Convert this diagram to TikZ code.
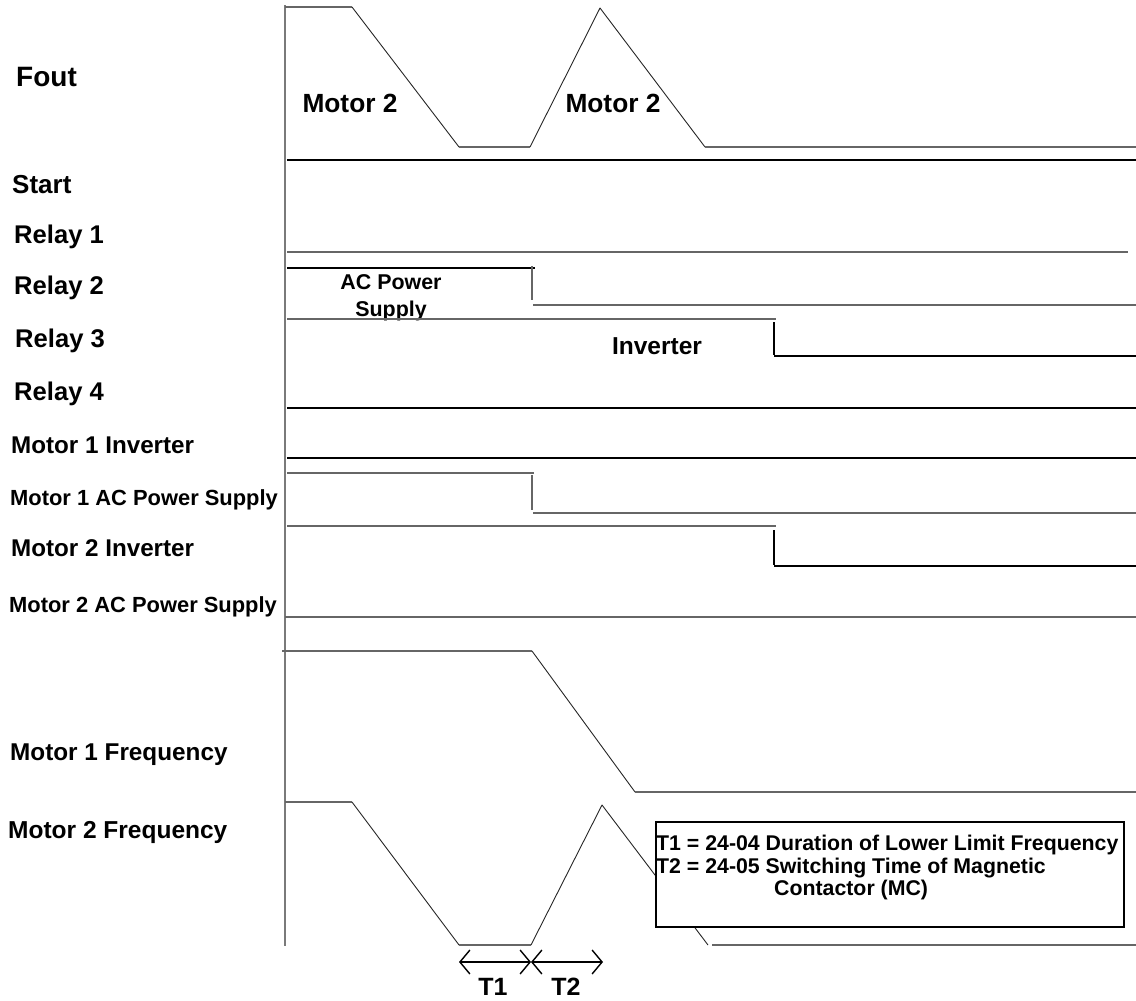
\documentclass[tikz,border=0pt]{standalone}
\usepackage{fontspec}
\setmainfont{Liberation Sans}
\usetikzlibrary{arrows.meta}

\definecolor{axisgray}{HTML}{7A7A7A}
\definecolor{siggray}{HTML}{666666}

% size, horizontal stretch, text
\newcommand\lbltext[3]{\fontsize{#1}{#1}\selectfont\scalebox{#2}[1]{#3}}

\tikzset{
  lbl/.style={anchor=base west, inner sep=0pt, font=\bfseries},
  mid/.style={anchor=base, inner sep=0pt, font=\bfseries},
  blk/.style={draw=black, line width=1.2pt},
  gry/.style={draw=siggray, line width=1.7pt},
  ramp/.style={draw=black!85, line width=0.9pt, line join=round},
  axisline/.style={draw=axisgray, line width=2pt},
  barb/.tip={Straight Barb[length=10pt,width=24pt,line width=1.4pt]},
  span/.style={draw=black, line width=1.4pt, barb-barb},
  legend/.style={draw=black, line width=2pt, fill=white, inner sep=0pt, anchor=north west}
}

\begin{document}
\begin{tikzpicture}[x=1pt, y=-1pt]
\useasboundingbox (0,0) rectangle (1136,1001);

% ---- signal names
\node[lbl] (nFout)  at (16,86)  {\lbltext{28}{1}{Fout}};
\node[lbl] (nStart) at (12,193) {\lbltext{26}{1}{Start}};
\node[lbl] (nR1)    at (14,243) {\lbltext{25.6}{1}{Relay 1}};
\node[lbl] (nR2)    at (14,294) {\lbltext{25.6}{1}{Relay 2}};
\node[lbl] (nR3)    at (15,347) {\lbltext{25.6}{1}{Relay 3}};
\node[lbl] (nR4)    at (14,400) {\lbltext{25.6}{1}{Relay 4}};
\node[lbl] (nM1I)   at (11,453) {\lbltext{24.2}{1}{Motor 1 Inverter}};
\node[lbl] (nM1A)   at (10,505) {\lbltext{21.9}{1}{Motor 1 AC Power Supply}};
\node[lbl] (nM2I)   at (11,556) {\lbltext{24.2}{1}{Motor 2 Inverter}};
\node[lbl] (nM2A)   at (9,612)  {\lbltext{21.9}{1}{Motor 2 AC Power Supply}};
\node[lbl] (nM1F)   at (10,760) {\lbltext{24.3}{1}{Motor 1 Frequency}};
\node[lbl] (nM2F)   at (8,838)  {\lbltext{24.5}{1}{Motor 2 Frequency}};

% ---- time axis
\draw[axisline] (285,5) -- (285,946);

% ---- Fout
\draw[gry]  (285,7) -- (352,7);
\draw[ramp] (352,7) -- (459,147);
\draw[gry]  (459,147) -- (530,147);
\draw[ramp] (530,147) -- (600,8) -- (705,147);
\draw[gry]  (705,147) -- (1136,147);
\node[mid] (fm2a) at (350,112) {\lbltext{26.3}{1}{Motor 2}};
\node[mid] (fm2b) at (613,112) {\lbltext{26.3}{1}{Motor 2}};

% ---- Start
\draw[blk] (287,160) -- (1136,160);

% ---- Relay 1
\draw[gry] (287,252) -- (1128,252);

% ---- Relay 2
\draw[blk] (287,268) -- (535,268);
\draw[gry] (532,266) -- (532,300);
\draw[gry] (533,305) -- (1136,305);
\node[mid] (acps1) at (391,289) {\lbltext{21.4}{1}{AC Power}};
\node[mid] (acps2) at (391,316) {\lbltext{21.4}{1}{Supply}};

% ---- Relay 3
\draw[gry] (287,319) -- (776,319);
\draw[blk] (774,322) -- (774,355);
\draw[blk] (774,356) -- (1136,356);
\node[mid] (inv) at (657,354) {\lbltext{24.5}{1}{Inverter}};

% ---- Relay 4
\draw[blk] (287,408) -- (1136,408);

% ---- Motor 1 inverter
\draw[blk] (287,458) -- (1136,458);

% ---- Motor 1 AC power supply
\draw[gry] (287,473) -- (534,473);
\draw[gry] (532,475) -- (532,510);
\draw[gry] (533,513) -- (1136,513);

% ---- Motor 2 inverter
\draw[gry] (287,526) -- (776,526);
\draw[blk] (774,530) -- (774,565);
\draw[blk] (774,566) -- (1136,566);

% ---- Motor 2 AC power supply
\draw[gry] (285,617) -- (1136,617);

% ---- Motor 1 frequency
\draw[gry]  (282,651) -- (532,651);
\draw[ramp] (532,651) -- (635,792);
\draw[gry]  (635,792) -- (1136,792);

% ---- Motor 2 frequency
\draw[gry]  (285,802) -- (352,802);
\draw[ramp] (352,802) -- (459,945);
\draw[gry]  (459,945) -- (531,945);
\draw[ramp] (531,945) -- (602,805) -- (708,945);
\draw[gry]  (712,945) -- (1136,945);

% ---- parameter key
\node[legend, minimum width=468pt, minimum height=105pt] (key) at (655,821) {};
\node[lbl] (k1) at (656,850) {\lbltext{21.3}{1}{T1 = 24-04 Duration of Lower Limit Frequency}};
\node[lbl] (k2) at (656,873) {\lbltext{21.3}{1}{T2 = 24-05 Switching Time of Magnetic}};
\node[lbl] (k3) at (774,895) {\lbltext{21.3}{1}{Contactor (MC)}};

% ---- timing spans
\coordinate (t0) at (459,962);
\coordinate (t1) at (531,962);
\coordinate (t2) at (603,962);
\draw[span] (t0) -- (t1);
\draw[span] (t1) -- (t2);
\node[mid] (lt1) at (493,995) {\lbltext{25}{1}{T1}};
\node[mid] (lt2) at (566,995) {\lbltext{25}{1}{T2}};
\end{tikzpicture}
\end{document}
